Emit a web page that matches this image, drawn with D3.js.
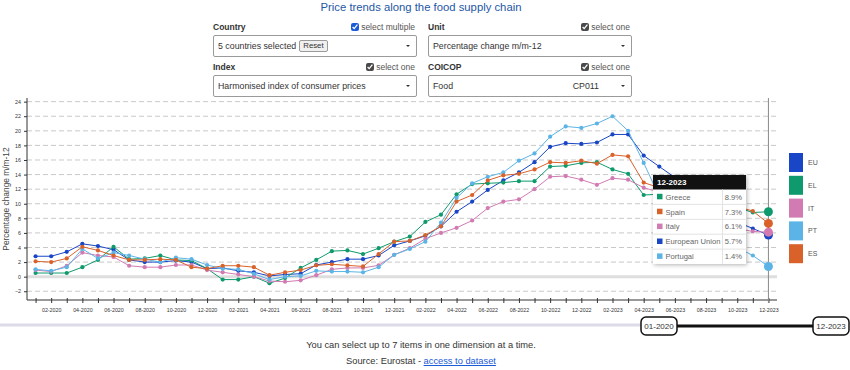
<!DOCTYPE html>
<html>
<head>
<meta charset="utf-8">
<script src="https://cdn.jsdelivr.net/npm/d3@7"></script>
<style>
body { margin: 0; width: 850px; height: 370px; overflow: hidden; position: relative; background: #fff;
       font-family: "Liberation Sans", Arial, sans-serif; color: #333; }
svg { position: absolute; left: 0; top: 0; }
.ctl-label { position: absolute; font-size: 8.5px; font-weight: bold; color: #333; }
.ctl-opt { position: absolute; font-size: 8.5px; color: #555; text-align: right; display: flex; align-items: center; gap: 2px; }
.ctl-opt input { width: 8px; height: 8px; margin: 0; accent-color: #4a4a4a; }
.ctl-opt input.multi { accent-color: #1a5bd8; }
.ctl-box { position: absolute; width: 198px; height: 20px; border: 1px solid #9a9a9a; border-radius: 2px;
           font-size: 8.8px; color: #333; display: flex; align-items: center; padding-left: 4px; box-sizing: content-box; }
.ctl-box .caret { position: absolute; right: 6px; top: 9px; width: 0; height: 0;
                  border-left: 2px solid transparent; border-right: 2px solid transparent; border-top: 2.5px solid #333; }
.ctl-box .code { position: absolute; right: 32px; }
.reset { font-size: 7.8px; border: 1px solid #999; background: #f0f0f0; padding: 1px 3px; margin-left: 3px; border-radius: 2px; line-height: 8px; }
.foot { position: absolute; width: 842px; text-align: center; font-size: 9.3px; color: #333; }
.foot a { color: #1a5bd8; text-decoration: underline; }
</style>
</head>
<body>
<svg id="chart" width="850" height="370"></svg>
<script>
// Data (food, HICP, % change m/m-12)
const months = [
  "01-2020","02-2020","03-2020","04-2020","05-2020","06-2020","07-2020","08-2020","09-2020","10-2020","11-2020","12-2020",
  "01-2021","02-2021","03-2021","04-2021","05-2021","06-2021","07-2021","08-2021","09-2021","10-2021","11-2021","12-2021",
  "01-2022","02-2022","03-2022","04-2022","05-2022","06-2022","07-2022","08-2022","09-2022","10-2022","11-2022","12-2022",
  "01-2023","02-2023","03-2023","04-2023","05-2023","06-2023","07-2023","08-2023","09-2023","10-2023","11-2023","12-2023"
];
const codes = ["EU", "EL", "IT", "PT", "ES"];
const names = ["European Union", "Greece", "Italy", "Portugal", "Spain"];
const colors = ["#1946c6", "#0f9a6e", "#d17bb2", "#5cb4e6", "#d9622b"];

const euValues = [
  2.8, 2.8, 3.4, 4.5, 4.2, 3.7, 2.3, 2.0, 2.0, 2.2, 2.0, 1.1,
  1.2, 0.8, 0.6, 0.1, 0.3, 0.4, 1.6, 2.0, 2.4, 2.4, 2.9, 4.3,
  4.9, 5.6, 6.9, 8.9, 10.3, 11.9, 13.2, 14.3, 15.7, 17.8, 18.3, 18.2,
  18.4, 19.5, 19.5, 16.6, 15.1, 13.6, 11.9, 10.6, 9.3, 7.5, 6.6, 5.7
];
const elValues = [
  0.5, 0.5, 0.5, 1.3, 2.3, 4.1, 2.4, 2.5, 2.9, 2.3, 2.2, 1.1,
  -0.4, -0.4, 0.0, -0.9, -0.2, 1.2, 2.3, 3.5, 3.6, 3.1, 3.9, 4.8,
  5.5, 7.5, 8.5, 11.3, 12.7, 12.8, 12.9, 13.1, 13.1, 15.1, 15.2, 15.6,
  15.7, 14.7, 14.1, 11.2, 11.3, 10.8, 10.5, 10.6, 10.2, 9.5, 8.8, 8.9
];
const itValues = [
  0.9, 0.7, 1.5, 3.3, 2.9, 2.7, 1.5, 1.3, 1.3, 1.6, 1.6, 0.9,
  0.6, 0.3, 0.0, -0.6, -0.7, -0.5, 0.2, 1.0, 1.2, 1.2, 1.55, 3.0,
  3.9, 5.2, 6.0, 6.7, 7.7, 9.4, 10.3, 10.6, 12.0, 13.7, 13.8, 13.3,
  12.6, 13.5, 13.3, 12.2, 11.6, 11.0, 10.2, 9.6, 8.6, 6.6, 6.2, 6.1
];
const ptValues = [
  1.0, 0.8, 1.3, 3.8, 2.5, 3.3, 2.9, 2.4, 2.0, 2.6, 2.4, 1.6,
  1.1, 1.0, 0.4, -0.4, 0.0, 0.1, 0.8, 0.7, 0.7, 0.6, 1.3, 3.0,
  3.8, 4.8, 7.4, 10.8, 12.8, 13.7, 14.3, 15.9, 16.9, 19.2, 20.6, 20.4,
  21.0, 22.0, 20.0, 15.6, 11.0, 9.0, 7.4, 6.0, 5.0, 4.0, 2.9, 1.4
];
const esValues = [
  2.1, 2.0, 2.5, 4.1, 3.6, 2.9, 2.3, 2.3, 2.4, 2.3, 1.3, 1.1,
  1.5, 1.5, 1.3, 0.2, 0.6, 0.9, 1.55, 1.7, 1.55, 1.4, 3.1, 4.8,
  4.9, 5.7, 6.9, 10.3, 11.2, 13.2, 13.9, 14.1, 14.7, 15.7, 15.6, 15.9,
  15.5, 16.7, 16.5, 12.9, 12.2, 10.6, 10.9, 10.5, 10.7, 9.6, 9.0, 7.3
];
const seriesValues = [euValues, elValues, itValues, ptValues, esValues];
const yTicks = [-2, 0, 2, 4, 6, 8, 10, 12, 14, 16, 18, 20, 22, 24];
const hoverMonth = "12-2023";

// ---- controls (plain html) ----
const body = d3.select("body");
function control(left, top, label, optText, multi, boxText, code) {
    body.append("div").attr("class", "ctl-label")
        .style("left", left + "px").style("top", (top + 1) + "px").text(label);
    const opt = body.append("div").attr("class", "ctl-opt")
        .style("left", (left + 102) + "px").style("width", "100px").style("justify-content", "flex-end")
        .style("top", (top + 1) + "px");
    opt.append("input").attr("type", "checkbox").classed("multi", multi).property("checked", true);
    opt.append("span").text(optText);
    const box = body.append("div").attr("class", "ctl-box")
        .style("left", left + "px").style("top", (top + 14) + "px");
    box.append("span").text(boxText);
    if (code) box.append("span").attr("class", "code").text(code);
    box.append("span").attr("class", "caret");
    return box;
}
const countryBox = control(213, 21, "Country", "select multiple", true, "5 countries selected");
countryBox.append("span").attr("class", "reset").text("Reset");
control(428, 21, "Unit", "select one", false, "Percentage change m/m-12");
control(213, 61, "Index", "select one", false, "Harmonised index of consumer prices");
control(428, 61, "COICOP", "select one", false, "Food", "CP011");

body.append("div").attr("class", "foot").style("top", "340px")
    .text("You can select up to 7 items in one dimension at a time.");
const src = body.append("div").attr("class", "foot").style("top", "356px");
src.append("span").text("Source: Eurostat - ");
src.append("a").attr("href", "#").text("access to dataset");

// ---- chart ----
const svg = d3.select("#chart");
svg.append("text").attr("x", 421).attr("y", 11).attr("text-anchor", "middle")
    .attr("font-size", 11.3).attr("fill", "#2457a6").text("Price trends along the food supply chain");

const x = d3.scalePoint().domain(months).range([27, 777]).padding(0.55);
const y = d3.scaleLinear().domain([-3.2, 24.5]).range([300, 98]);

// grid
svg.append("g").selectAll("line").data(yTicks.filter(d => d !== 0)).join("line")
    .attr("x1", 27).attr("x2", 777).attr("y1", d => y(d)).attr("y2", d => y(d))
    .attr("stroke", "#c9c9c9").attr("stroke-dasharray", "5,3");
svg.append("line").attr("x1", 27).attr("x2", 777).attr("y1", y(0)).attr("y2", y(0))
    .attr("stroke", "#dedede").attr("stroke-width", 3);

// axes
const yAxis = svg.append("g").attr("transform", "translate(27,0)")
    .call(d3.axisLeft(y).tickValues(yTicks).tickSize(3).tickSizeOuter(0));
const xAxis = svg.append("g").attr("transform", "translate(0,300)")
    .call(d3.axisBottom(x).tickSize(3).tickSizeOuter(0)
        .tickFormat((d, i) => i % 2 === 1 ? d : ""));
xAxis.selectAll(".tick line").attr("y1", -2);
[yAxis, xAxis].forEach(a => {
    a.selectAll("text").attr("font-size", 5.3).attr("fill", "#333")
        .attr("font-family", "Liberation Sans, Arial, sans-serif");
    a.selectAll("line, path").attr("stroke", "#333");
});
yAxis.select(".domain").attr("d", "M0,98V300");
xAxis.select(".domain").attr("d", "M27,0H777");
xAxis.selectAll("text").attr("dy", "1.2em");

svg.append("text").attr("transform", "translate(9,199) rotate(-90)")
    .attr("text-anchor", "middle").attr("font-size", 8.4).attr("fill", "#444")
    .text("Percentage change m/m-12");

// hover line
svg.append("line").attr("x1", x(hoverMonth)).attr("x2", x(hoverMonth))
    .attr("y1", 98).attr("y2", 303).attr("stroke", "#8a8a8a");

// series
const line = d3.line().x((d, i) => x(months[i])).y(d => y(d));
const series = codes.map((c, k) => ({ code: c, name: names[k], color: colors[k], values: seriesValues[k] }));
const sg = svg.append("g").selectAll("g").data(series).join("g");
sg.append("path").attr("d", d => line(d.values)).attr("fill", "none")
    .attr("stroke", d => d.color).attr("stroke-width", 1);
sg.selectAll("circle").data(d => d.values.map((v, i) => ({ v, i, color: d.color }))).join("circle")
    .attr("cx", d => x(months[d.i])).attr("cy", d => y(d.v))
    .attr("r", d => months[d.i] === hoverMonth ? 4.5 : 2.1)
    .attr("fill", d => d.color);

// legend
const lg = svg.append("g").attr("transform", "translate(789,153)");
const li = lg.selectAll("g").data(series).join("g").attr("transform", (d, i) => `translate(0,${i * 22.8})`);
li.append("rect").attr("width", 14).attr("height", 19).attr("fill", d => d.color);
li.append("text").attr("x", 19).attr("y", 12).attr("font-size", 7).attr("fill", "#555").text(d => d.code);

// tooltip
const defs = svg.append("defs");
const f = defs.append("filter").attr("id", "shadow").attr("x", -0.2).attr("y", -0.2).attr("width", 1.4).attr("height", 1.4);
f.append("feDropShadow").attr("dx", 1).attr("dy", 1).attr("stdDeviation", 2).attr("flood-opacity", 0.3);
const idx = months.indexOf(hoverMonth);
const rows = series.map(d => ({ name: d.name, color: d.color, v: d.values[idx] }))
    .sort((a, b) => b.v - a.v);
const tt = svg.append("g").attr("transform", "translate(653,175)");
tt.append("rect").attr("width", 93).attr("height", 89).attr("fill", "#fff").attr("filter", "url(#shadow)");
tt.append("rect").attr("width", 93).attr("height", 14.5).attr("fill", "#111");
tt.append("text").attr("x", 4).attr("y", 10.3).attr("font-size", 8).attr("font-weight", "bold")
    .attr("fill", "#fff").text(hoverMonth);
tt.append("line").attr("x1", 69.5).attr("x2", 69.5).attr("y1", 14.5).attr("y2", 89).attr("stroke", "#e3e3e3");
const tr = tt.selectAll("g.row").data(rows).join("g").attr("class", "row")
    .attr("transform", (d, i) => `translate(0,${14.5 + i * 14.9})`);
tr.append("line").attr("x1", 0).attr("x2", 93).attr("y1", 14.9).attr("y2", 14.9)
    .attr("stroke", (d, i) => i < rows.length - 1 ? "#e3e3e3" : "none");
tr.append("rect").attr("x", 4).attr("y", 4.3).attr("width", 5.5).attr("height", 5.5).attr("fill", d => d.color);
tr.append("text").attr("x", 12.5).attr("y", 10.2).attr("font-size", 7.6).attr("fill", "#666").text(d => d.name);
tr.append("text").attr("x", 89).attr("y", 10.2).attr("text-anchor", "end").attr("font-size", 7.6)
    .attr("fill", "#666").text(d => d3.format(".1f")(d.v) + "%");

// time slider
svg.append("rect").attr("x", 0).attr("y", 323.5).attr("width", 641).attr("height", 3).attr("fill", "#dcdce8");
svg.append("line").attr("x1", 677).attr("x2", 813).attr("y1", 326).attr("y2", 326)
    .attr("stroke", "#111").attr("stroke-width", 3);
[[641, months[0]], [813, months[months.length - 1]]].forEach(([bx, t]) => {
    svg.append("rect").attr("x", bx).attr("y", 317).attr("width", 36).attr("height", 18).attr("rx", 5)
        .attr("fill", "#fff").attr("stroke", "#111").attr("stroke-width", 1.5);
    svg.append("text").attr("x", bx + 18).attr("y", 329).attr("text-anchor", "middle")
        .attr("font-size", 8).attr("fill", "#333").text(t);
});
</script>
</body>
</html>
